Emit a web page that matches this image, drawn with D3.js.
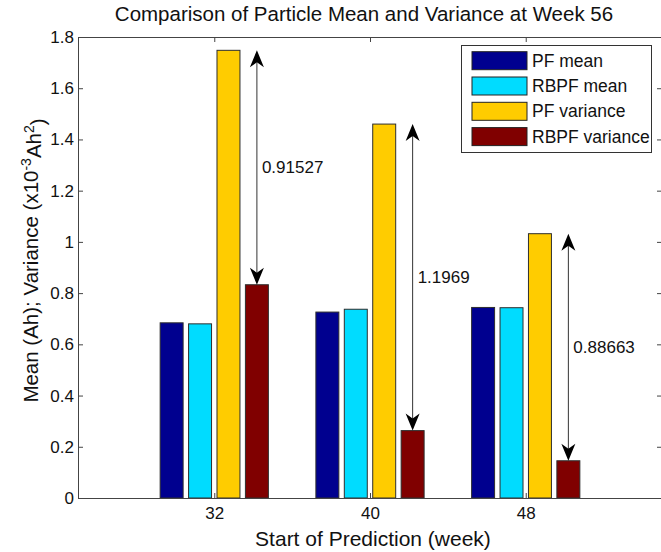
<!DOCTYPE html>
<html>
<head>
<meta charset="utf-8">
<script src="https://cdn.jsdelivr.net/npm/d3@7"></script>
<style>
  html, body { margin: 0; padding: 0; background: #fff; }
  svg text { font-family: "Liberation Sans", Arial, sans-serif; fill: #111; }
</style>
</head>
<body>
<div id="chart"></div>
<script>
// data
const weeks = [32, 40, 48];
const seriesNames = ["PF mean", "RBPF mean", "PF variance", "RBPF variance"];
const pfMean   = [0.684, 0.726, 0.744];
const rbpfMean = [0.680, 0.737, 0.743];
const pfVar    = [1.748, 1.460, 1.032];
const rbpfVar  = [0.8327, 0.2631, 0.1454];
const diffLabels = ["0.91527", "1.1969", "0.88663"];
const yTicks = [0, 0.2, 0.4, 0.6, 0.8, 1, 1.2, 1.4, 1.6, 1.8];
const xTicks = [32, 40, 48];

const colors = ["#00008f", "#00dcff", "#ffcc00", "#800000"];
const allSeries = [pfMean, rbpfMean, pfVar, rbpfVar];

const W = 661, H = 552;
const L = 78, R = 662, T = 37, B = 498;

const svg = d3.select("#chart").append("svg")
  .attr("width", W).attr("height", H);

const x = d3.scaleLinear().domain([25, 55]).range([L, R]);
const y = d3.scaleLinear().domain([0, 1.8]).range([B, T]);

// bar layout (in weeks)
const offsets = [-2.19, -0.73, 0.73, 2.19];
const barW = 1.18;

// ==== bars ====
const bars = [];
allSeries.forEach((vals, s) => {
  vals.forEach((v, i) => bars.push({ s, wk: weeks[i], v }));
});

svg.selectAll(".bar")
  .data(bars)
  .enter().append("rect")
    .attr("class", "bar")
    .attr("x", d => x(d.wk + offsets[d.s] - barW / 2))
    .attr("width", d => x(barW) - x(0))
    .attr("y", d => y(d.v))
    .attr("height", d => y(0) - y(d.v))
    .attr("fill", d => colors[d.s])
    .attr("stroke", "#2e2e2e")
    .attr("stroke-width", 1);

// ==== axes (box, inward ticks) ====
const fmtY = v => (v === 0 || v === 1) ? String(v) : d3.format(".1f")(v);
const axisStyle = g => {
  g.select(".domain").attr("stroke", "#444");
  g.selectAll(".tick line").attr("stroke", "#444");
  g.selectAll("text").style("font-size", "17px").attr("fill", "#111");
};

svg.append("g")
  .attr("transform", `translate(${L},0)`)
  .call(d3.axisLeft(y).tickValues(yTicks).tickFormat(fmtY).tickSize(-5).tickSizeOuter(0).tickPadding(4))
  .call(axisStyle);

svg.append("g")
  .attr("transform", `translate(${R},0)`)
  .call(d3.axisRight(y).tickValues(yTicks).tickFormat("").tickSize(-5).tickSizeOuter(0))
  .call(axisStyle);

svg.append("g")
  .attr("transform", `translate(0,${B})`)
  .call(d3.axisBottom(x).tickValues(xTicks).tickSize(-5).tickSizeOuter(0).tickPadding(9))
  .call(axisStyle);

svg.append("g")
  .attr("transform", `translate(0,${T})`)
  .call(d3.axisTop(x).tickValues(xTicks).tickFormat("").tickSize(-5).tickSizeOuter(0))
  .call(axisStyle);

// ==== difference arrows ====
const head = (cx, tip, dir) => {
  // dir = 1 points up, -1 points down
  const l = 17 * dir, n = 12 * dir, w = 7;
  return `M${cx},${tip} L${cx - w},${tip + l} L${cx},${tip + n} L${cx + w},${tip + l} Z`;
};

weeks.forEach((wk, i) => {
  const cx = x(wk + offsets[3]);
  const y1 = y(pfVar[i]), y2 = y(rbpfVar[i]);
  svg.append("line")
    .attr("x1", cx).attr("x2", cx)
    .attr("y1", y1 + 10).attr("y2", y2 - 10)
    .attr("stroke", "#333").attr("stroke-width", 1);
  svg.append("path").attr("d", head(cx, y1, 1)).attr("fill", "#000");
  svg.append("path").attr("d", head(cx, y2, -1)).attr("fill", "#000");
  svg.append("text")
    .attr("x", cx + 5)
    .attr("y", (y1 + y2) / 2)
    .attr("dy", "0.35em")
    .style("font-size", "17px")
    .text(diffLabels[i]);
});

// ==== legend ====
const lg = svg.append("g");
lg.append("rect")
  .attr("x", 461.5).attr("y", 45.5)
  .attr("width", 190).attr("height", 107)
  .attr("fill", "#fff").attr("stroke", "#333");

seriesNames.forEach((name, s) => {
  const cy = 60.7 + s * 25.3;
  lg.append("rect")
    .attr("x", 472).attr("y", cy - 9)
    .attr("width", 55).attr("height", 18)
    .attr("fill", colors[s]).attr("stroke", "#222");
  lg.append("text")
    .attr("x", 532).attr("y", cy)
    .attr("dy", "0.35em")
    .style("font-size", "17.5px")
    .text(name);
});

// ==== titles ====
svg.append("text")
  .attr("x", (L + R) / 2 - 6).attr("y", 21)
  .attr("text-anchor", "middle")
  .style("font-size", "20.5px")
  .text("Comparison of Particle Mean and Variance at Week 56");

svg.append("text")
  .attr("x", (L + R) / 2 + 3).attr("y", 546)
  .attr("text-anchor", "middle")
  .style("font-size", "21px")
  .text("Start of Prediction (week)");

const yl = svg.append("text")
  .attr("transform", `translate(38,${(T + B) / 2 - 7}) rotate(-90)`)
  .attr("text-anchor", "middle")
  .style("font-size", "20.5px");
yl.append("tspan").text("Mean (Ah); Variance (x10");
yl.append("tspan").attr("dy", "-0.5em").style("font-size", "14px").text("-3");
yl.append("tspan").attr("dy", "0.5em").text("Ah");
yl.append("tspan").attr("dy", "-0.5em").style("font-size", "14px").text("2");
yl.append("tspan").attr("dy", "0.5em").text(")");
</script>
</body>
</html>
